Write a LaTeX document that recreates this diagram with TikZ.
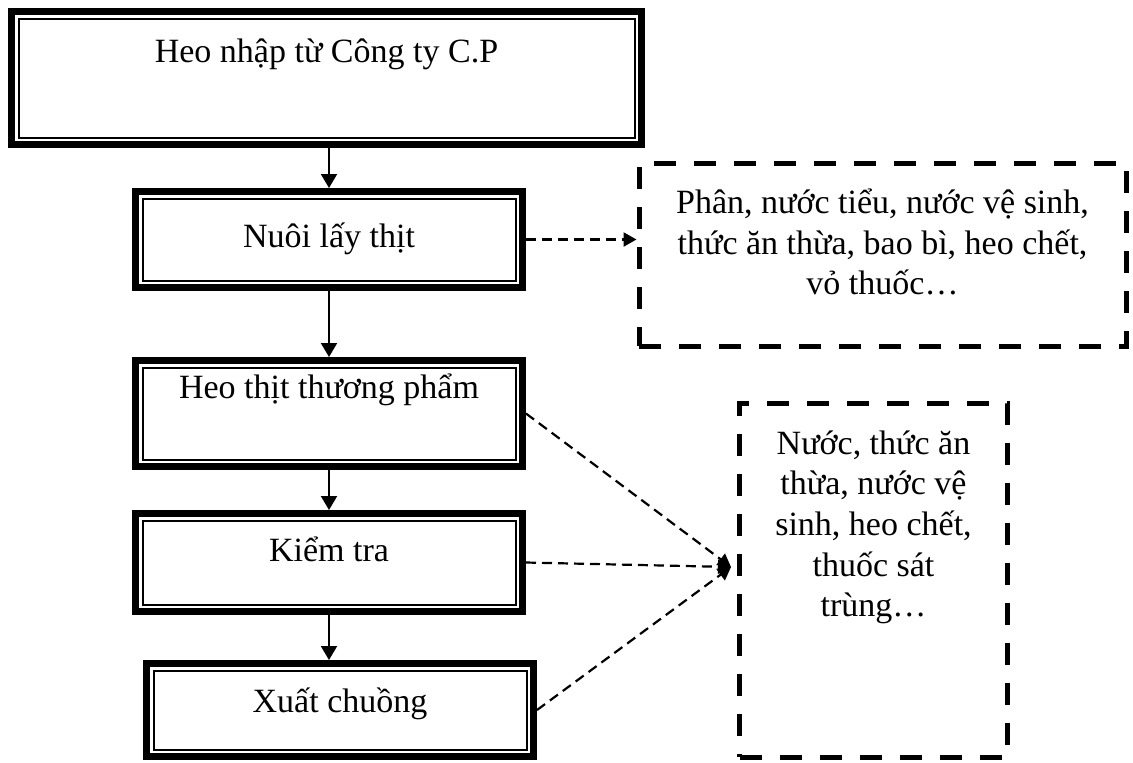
\documentclass[tikz,border=0pt]{standalone}
\usepackage{fontspec}
\setmainfont{Liberation Serif}
\usetikzlibrary{arrows.meta}
\begin{document}
\begin{tikzpicture}[x=0.5pt,y=-0.5pt,
  txt/.style={font=\fontsize{17pt}{20.3pt}\selectfont},
  procbox/.style={txt, draw, line width=3.5pt, inner sep=0pt, text height=12pt},
  inbox/.style={line width=1pt},
  wastebox/.style={txt, draw, line width=2.5pt, dash pattern=on 11pt off 9pt, inner sep=0pt, align=center},
  flow/.style={line width=1pt, -{Triangle[length=7pt,width=8pt]}},
  wasteflow/.style={line width=1.1pt, dash pattern=on 5pt off 3pt, -{Triangle[length=6.5pt,width=7pt]}}]
\useasboundingbox (0,0) rectangle (1133,762);
\node[procbox, minimum width=315pt, minimum height=66.5pt, text depth=28pt] (a) at (326.5,78) {Heo nhập từ Công ty C.P};
\node[procbox, minimum width=193.5pt, minimum height=48pt, text depth=4pt] (b) at (329,239.5) {Nuôi lấy thịt};
\node[procbox, minimum width=193.5pt, minimum height=53pt, text depth=27.5pt] (c) at (329,413.5) {Heo thịt thương phẩm};
\node[procbox, minimum width=193.5pt, minimum height=49pt, text depth=13.5pt] (d) at (329,562.5) {Kiểm tra};
\node[procbox, minimum width=193.5pt, minimum height=46.5pt, text depth=10pt] (e) at (340,710) {Xuất chuồng};
\foreach \n in {a,b,c,d,e}
  \draw[inbox] ([shift={(5.25pt,-5.25pt)}]\n.north west) rectangle ([shift={(-5.25pt,5.25pt)}]\n.south east);
\node[wastebox, minimum width=243.5pt, minimum height=91.25pt, text height=60pt, text depth=20pt] (g) at (882.5,254.75)
  {Phân, nước tiểu, nước vệ sinh,\\thức ăn thừa, bao bì, heo chết,\\vỏ thuốc…};
\node[wastebox, minimum width=134pt, minimum height=176.75pt, text height=100pt, text depth=63.5pt] (f) at (873.5,580.25)
  {Nước, thức ăn\\thừa, nước vệ\\sinh, heo chết,\\thuốc sát\\trùng…};
\coordinate (tip) at (731,567);
\draw[flow] (a.south -| b.north) -- (b.north);
\draw[flow] (b.south) -- (c.north);
\draw[flow] (c.south) -- (d.north);
\draw[flow] (d.south) -- (d.south |- e.north);
\draw[wasteflow] (b.east) -- (b.east -| g.west);
\draw[wasteflow] (c.east) -- (tip);
\draw[wasteflow] (d.east) -- (tip);
\draw[wasteflow] (e.east) -- (tip);
\end{tikzpicture}
\end{document}
